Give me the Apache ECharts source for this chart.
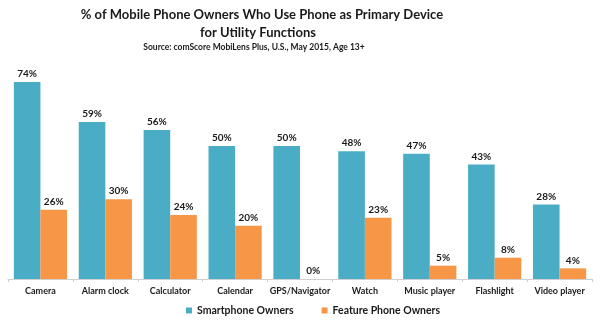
<!DOCTYPE html>
<html><head><meta charset="utf-8">
<script src="https://cdn.jsdelivr.net/npm/echarts@6/dist/echarts.min.js"></script>
<style>html,body{margin:0;padding:0;background:#fff}#c{width:600px;height:325px}</style>
</head><body><div id="c"></div>
<script>
const categories = ["Camera","Alarm clock","Calculator","Calendar","GPS/Navigator","Watch","Music player","Flashlight","Video player"];
const smartphone = [74,59,56,50,50,48,47,43,28];
const featurePhone = [26,30,24,20,0,23,5,8,4];
const seriesNames = ["Smartphone Owners","Feature Phone Owners"];
const titleLines = ["% of Mobile Phone Owners Who Use Phone as Primary Device","for Utility Functions"];
const subtitleText = "Source: comScore MobiLens Plus, U.S., May 2015, Age 13+";

const FONT = "Lato, 'Open Sans', sans-serif";
const chart = echarts.init(document.getElementById('c'), null, {renderer:'canvas'});
const labelCfg = {show:true, position:'top', distance:3, formatter:'{c}%', fontFamily:FONT, fontWeight:'bold', fontSize:10, color:'#1a1a1a'};
const tStyle = {fontFamily:FONT, fontWeight:'bold', fontSize:13, color:'#1a1a1a'};
chart.setOption({
  animation:false,
  title:[
    {text:titleLines[0], left:262, top:8, textAlign:'center', padding:0, textStyle:tStyle},
    {text:titleLines[1], left:258, top:26, textAlign:'center', padding:0, textStyle:tStyle},
    {text:subtitleText, left:254, top:43, textAlign:'center', padding:0,
     textStyle:{fontFamily:FONT, fontWeight:'bold', fontSize:8.5, color:'#1a1a1a'}}
  ],
  legend:{
    data:seriesNames, left:186, top:305, padding:0, itemWidth:6, itemHeight:6, itemGap:28,
    icon:'rect',
    textStyle:{fontFamily:FONT, fontWeight:'bold', fontSize:10.5, color:'#1a1a1a'}
  },
  grid:{left:8, right:8, top:66, bottom:46, containLabel:false},
  xAxis:{
    type:'category', data:categories,
    axisLine:{lineStyle:{color:'#cfcfcf'}},
    axisTick:{show:true, length:3, lineStyle:{color:'#cfcfcf'}},
    axisLabel:{fontFamily:FONT, fontWeight:'bold', fontSize:9, color:'#1a1a1a', margin:8, interval:0}
  },
  yAxis:{type:'value', min:0, max:80, show:false, splitLine:{show:false}},
  series:[
    {name:seriesNames[0], type:'bar', data:smartphone, barGap:'0%', barCategoryGap:'18%',
     itemStyle:{color:'#4BACC6'}, label:labelCfg},
    {name:seriesNames[1], type:'bar', data:featurePhone,
     itemStyle:{color:'#F79646'}, label:labelCfg}
  ]
});
</script></body></html>
